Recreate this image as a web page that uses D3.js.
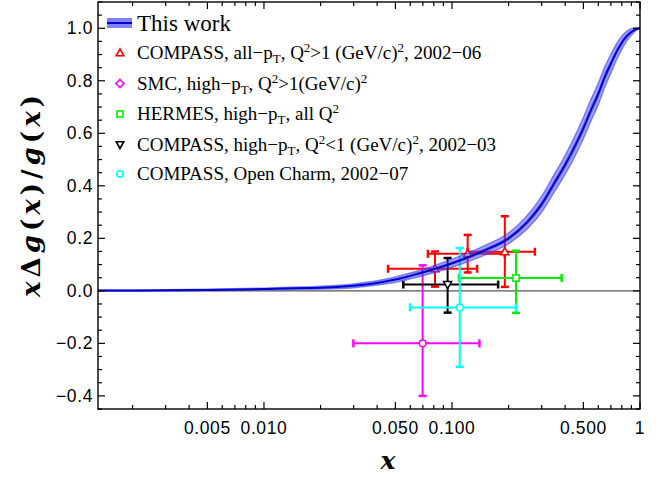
<!DOCTYPE html>
<html><head><meta charset="utf-8">
<script src="https://cdn.jsdelivr.net/npm/d3@7"></script>
<style>body{margin:0;background:#fff} svg{display:block}</style>
</head><body><svg id="c" width="667" height="478"></svg>
<script>
// ---------- data ----------
const xDomain = [0.00131, 1];
const yDomain = [-0.45, 1.1];
const xMajorTicks = [0.005, 0.01, 0.05, 0.1, 0.5, 1];
const xTickLabels = ["0.005", "0.010", "0.050", "0.100", "0.500", "1"];
const xMinorTicks = [0.002,0.003,0.004,0.006,0.007,0.008,0.009,0.02,0.03,0.04,0.06,0.07,0.08,0.09,0.2,0.3,0.4,0.6,0.7,0.8,0.9];
const yMajorTicks = [-0.4, -0.2, 0, 0.2, 0.4, 0.6, 0.8, 1.0];
const yTickLabels = ["\u22120.4", "\u22120.2", "0.0", "0.2", "0.4", "0.6", "0.8", "1.0"];

// "This work" band
const curveX   = [0.00131,0.002,0.003,0.005,0.01,0.015,0.02,0.03,0.04,0.05,0.06,0.08,0.1,0.12,0.15,0.2,0.25,0.3,0.35,0.4,0.45,0.5,0.55,0.6,0.65,0.7,0.75,0.8,0.85,0.9,0.95,1.0];
const curveY   = [0.001,0.0015,0.002,0.0035,0.007,0.010,0.012,0.019,0.030,0.043,0.057,0.082,0.105,0.126,0.155,0.200,0.26,0.33,0.41,0.48,0.55,0.62,0.69,0.75,0.815,0.865,0.91,0.945,0.97,0.986,0.996,1.0];
const curveErr = [0.001,0.001,0.0015,0.002,0.003,0.004,0.005,0.007,0.008,0.010,0.011,0.013,0.015,0.016,0.018,0.020,0.025,0.030,0.033,0.035,0.038,0.040,0.040,0.040,0.038,0.035,0.030,0.025,0.018,0.012,0.005,0.0];

// COMPASS, all-pT, Q2>1, 2002-06
const compassAllX    = [0.0812, 0.1212, 0.191];
const compassAllY    = [0.084, 0.141, 0.149];
const compassAllUp   = [0.066, 0.072, 0.135];
const compassAllDn   = [0.068, 0.071, 0.134];
const compassAllXLo  = [0.0457, 0.0745, 0.121];
const compassAllXHi  = [0.136, 0.191, 0.276];
// SMC
const smcX = [0.0698], smcY = [-0.20], smcUp = [0.297], smcDn = [0.20], smcXLo = [0.0299], smcXHi = [0.140];
// HERMES
const hermesX = [0.219], hermesY = [0.049], hermesUp = [0.104], hermesDn = [0.133], hermesXLo = [0.109], hermesXHi = [0.383];
// COMPASS, high-pT, Q2<1, 2002-03
const compassLowX = [0.0948], compassLowY = [0.024], compassLowUp = [0.101], compassLowDn = [0.107], compassLowXLo = [0.0551], compassLowXHi = [0.176];
// COMPASS open charm
const charmX = [0.110], charmY = [-0.063], charmUp = [0.226], charmDn = [0.226], charmXLo = [0.0598], charmXHi = [0.219];

// ---------- layout ----------
const L = 98, R = 640, T = 2, B = 409;
const svg = d3.select("#c");
const x = d3.scaleLog().domain(xDomain).range([L, R]);
const y = d3.scaleLinear().domain(yDomain).range([B, T]);

const series = [
  {name:"compassAll", color:"#ff0000", shape:"tri", X:compassAllX, Y:compassAllY, up:compassAllUp, dn:compassAllDn, lo:compassAllXLo, hi:compassAllXHi},
  {name:"smc", color:"#ff00ff", shape:"circ", X:smcX, Y:smcY, up:smcUp, dn:smcDn, lo:smcXLo, hi:smcXHi},
  {name:"hermes", color:"#00ee00", shape:"sq", X:hermesX, Y:hermesY, up:hermesUp, dn:hermesDn, lo:hermesXLo, hi:hermesXHi},
  {name:"compassLow", color:"#000000", shape:"itri", X:compassLowX, Y:compassLowY, up:compassLowUp, dn:compassLowDn, lo:compassLowXLo, hi:compassLowXHi},
  {name:"charm", color:"#00ffff", shape:"circ", X:charmX, Y:charmY, up:charmUp, dn:charmDn, lo:charmXLo, hi:charmXHi}
];

// zero line
svg.append("line").attr("x1", L).attr("x2", R).attr("y1", y(0)).attr("y2", y(0))
  .attr("stroke", "#555").attr("stroke-width", 1.2);

// error bars
const cap = 4;
series.forEach(s => {
  const g = svg.append("g").attr("stroke", s.color).attr("stroke-width", 2).attr("fill", "none");
  s.X.forEach((xv, i) => {
    const px = x(xv), py = y(s.Y[i]);
    const yt = y(s.Y[i] + s.up[i]), yb = y(s.Y[i] - s.dn[i]);
    const xl = x(s.lo[i]), xr = x(s.hi[i]);
    g.append("line").attr("x1", px).attr("x2", px).attr("y1", yt).attr("y2", yb);
    g.append("line").attr("x1", xl).attr("x2", xr).attr("y1", py).attr("y2", py);
    g.append("line").attr("x1", px-cap).attr("x2", px+cap).attr("y1", yt).attr("y2", yt).attr("stroke-width", 2.5);
    g.append("line").attr("x1", px-cap).attr("x2", px+cap).attr("y1", yb).attr("y2", yb).attr("stroke-width", 2.5);
    g.append("line").attr("x1", xl).attr("x2", xl).attr("y1", py-cap).attr("y2", py+cap).attr("stroke-width", 2.5);
    g.append("line").attr("x1", xr).attr("x2", xr).attr("y1", py-cap).attr("y2", py+cap).attr("stroke-width", 2.5);
  });
});

function marker(g, shape, cx, cy, r, color, sw) {
  let el;
  if (shape === "tri") el = g.append("path").attr("d", `M${cx},${cy-r}L${cx+r*0.95},${cy+r*0.7}L${cx-r*0.95},${cy+r*0.7}Z`);
  else if (shape === "itri") el = g.append("path").attr("d", `M${cx},${cy+r}L${cx+r*0.95},${cy-r*0.7}L${cx-r*0.95},${cy-r*0.7}Z`);
  else if (shape === "sq") el = g.append("rect").attr("x", cx-r*0.75).attr("y", cy-r*0.75).attr("width", r*1.5).attr("height", r*1.5);
  else if (shape === "dia") el = g.append("path").attr("d", `M${cx},${cy-r}L${cx+r},${cy}L${cx},${cy+r}L${cx-r},${cy}Z`);
  else el = g.append("circle").attr("cx", cx).attr("cy", cy).attr("r", r*0.8);
  el.attr("fill", "#fff").attr("stroke", color).attr("stroke-width", sw);
}
series.forEach(s => {
  const g = svg.append("g");
  s.X.forEach((xv, i) => marker(g, s.shape, x(xv), y(s.Y[i]), 4.2, s.color, 1.5));
});

// band (drawn on top, translucent)
const bandData = curveX.map((xv, i) => ({x: xv, y: curveY[i], e: curveErr[i]}));
const areaOuter = d3.area().x(d => x(d.x)).y0(d => y(d.y - d.e)).y1(d => y(d.y + d.e)).curve(d3.curveMonotoneX);
const areaInner = d3.area().x(d => x(d.x)).y0(d => y(d.y - d.e*0.5)).y1(d => y(d.y + d.e*0.5)).curve(d3.curveMonotoneX);
svg.append("clipPath").attr("id", "pc").append("rect").attr("x", L).attr("y", T).attr("width", R-L).attr("height", B-T);
const bg = svg.append("g").attr("clip-path", "url(#pc)");
bg.append("path").datum(bandData).attr("d", areaOuter).attr("fill", "rgb(70,70,255)").attr("fill-opacity", 0.45)
  .attr("stroke", "rgb(60,60,240)").attr("stroke-opacity", 0.6).attr("stroke-width", 1.6);
bg.append("path").datum(bandData).attr("d", areaInner).attr("fill", "rgb(50,50,230)").attr("fill-opacity", 0.4);
bg.append("path").datum(bandData).attr("d", d3.line().x(d => x(d.x)).y(d => y(d.y)).curve(d3.curveMonotoneX))
  .attr("fill", "none").attr("stroke", "#0000d0").attr("stroke-width", 2);

// frame and ticks
svg.append("rect").attr("x", L).attr("y", T).attr("width", R-L).attr("height", B-T)
  .attr("fill", "none").attr("stroke", "#000").attr("stroke-width", 1.4);
const tg = svg.append("g").attr("stroke", "#000").attr("stroke-width", 1.2);
xMajorTicks.forEach(v => {
  tg.append("line").attr("x1", x(v)).attr("x2", x(v)).attr("y1", B).attr("y2", B-7);
  tg.append("line").attr("x1", x(v)).attr("x2", x(v)).attr("y1", T).attr("y2", T+7);
});
xMinorTicks.forEach(v => {
  tg.append("line").attr("x1", x(v)).attr("x2", x(v)).attr("y1", B).attr("y2", B-4);
  tg.append("line").attr("x1", x(v)).attr("x2", x(v)).attr("y1", T).attr("y2", T+4);
});
yMajorTicks.forEach(v => {
  tg.append("line").attr("x1", L).attr("x2", L+7).attr("y1", y(v)).attr("y2", y(v));
  tg.append("line").attr("x1", R).attr("x2", R-7).attr("y1", y(v)).attr("y2", y(v));
});
d3.range(-0.45, 1.1001, 0.05).forEach(v => {
  if (yMajorTicks.some(m => Math.abs(m - v) < 1e-6)) return;
  tg.append("line").attr("x1", L).attr("x2", L+4).attr("y1", y(v)).attr("y2", y(v));
  tg.append("line").attr("x1", R).attr("x2", R-4).attr("y1", y(v)).attr("y2", y(v));
});

const tickFont = "'Liberation Sans', Arial, sans-serif";
xMajorTicks.forEach((v, i) => {
  svg.append("text").attr("x", x(v)).attr("y", 434).attr("text-anchor", "middle")
    .attr("font-family", tickFont).attr("font-size", 17.5).attr("letter-spacing", 0.6).text(xTickLabels[i]);
});
yMajorTicks.forEach((v, i) => {
  svg.append("text").attr("x", 93).attr("y", y(v) + 6).attr("text-anchor", "end")
    .attr("font-family", tickFont).attr("font-size", 17.5).attr("letter-spacing", 0.6).text(yTickLabels[i]);
});

// axis labels
const mathFont = "'DejaVu Serif', 'Liberation Serif', serif";
svg.append("text").attr("x", 388).attr("y", 469).attr("text-anchor", "middle")
  .attr("font-family", mathFont).attr("font-weight", "bold").attr("font-style", "italic")
  .attr("font-size", 25).text("x");
const yl = svg.append("text").attr("transform", "translate(40,196) rotate(-90)").attr("text-anchor", "middle")
  .attr("font-family", mathFont).attr("font-weight", "bold").attr("font-size", 26)
  .attr("textLength", 202).attr("lengthAdjust", "spacing");
[["x",1],["\u0394",0],["g",1],["(",0],["x",1],[")",0],["/",0],["g",1],["(",0],["x",1],[")",0]].forEach(([t, it]) => {
  yl.append("tspan").attr("font-style", it ? "italic" : "normal").text(t);
});

// legend
const legFont = "'Liberation Serif', 'Times New Roman', serif";
svg.append("rect").attr("x", 107).attr("y", 18).attr("width", 25).attr("height", 10).attr("fill", "rgb(130,130,255)");
svg.append("line").attr("x1", 107).attr("x2", 132).attr("y1", 23).attr("y2", 23).attr("stroke", "#0000d0").attr("stroke-width", 2);
svg.append("text").attr("x", 137).attr("y", 31).attr("font-family", legFont).attr("font-size", 23).text("This work");

const legendRows = [
  {shape:"tri", color:"#ff0000", cy:53, parts:[["COMPASS, all\u2212p"],["T","sub"],[", Q"],["2","sup"],[">1 (GeV/c)"],["2","sup"],[", 2002\u221206"]]},
  {shape:"dia", color:"#ff00ff", cy:83.5, parts:[["SMC, high\u2212p"],["T","sub"],[", Q"],["2","sup"],[">1(GeV/c)"],["2","sup"]]},
  {shape:"sq", color:"#00ee00", cy:114, parts:[["HERMES, high\u2212p"],["T","sub"],[", all Q"],["2","sup"]]},
  {shape:"itri", color:"#000000", cy:144.5, parts:[["COMPASS, high\u2212p"],["T","sub"],[", Q"],["2","sup"],["<1 (GeV/c)"],["2","sup"],[", 2002\u221203"]]},
  {shape:"circ", color:"#00ffff", cy:174, parts:[["COMPASS, Open Charm, 2002\u221207"]]}
];
legendRows.forEach(r => {
  marker(svg, r.shape, 120, r.cy, 4, r.color, 1.6);
  const t = svg.append("text").attr("x", 137).attr("y", r.cy + 6).attr("font-family", legFont).attr("font-size", 19);
  let shift = 0;
  r.parts.forEach(([s, k]) => {
    const target = k === "sub" ? 4 : k === "sup" ? -7 : 0;
    const ts = t.append("tspan").attr("dy", target - shift).text(s);
    if (k) ts.attr("font-size", 13);
    shift = target;
  });
});
</script></body></html>
